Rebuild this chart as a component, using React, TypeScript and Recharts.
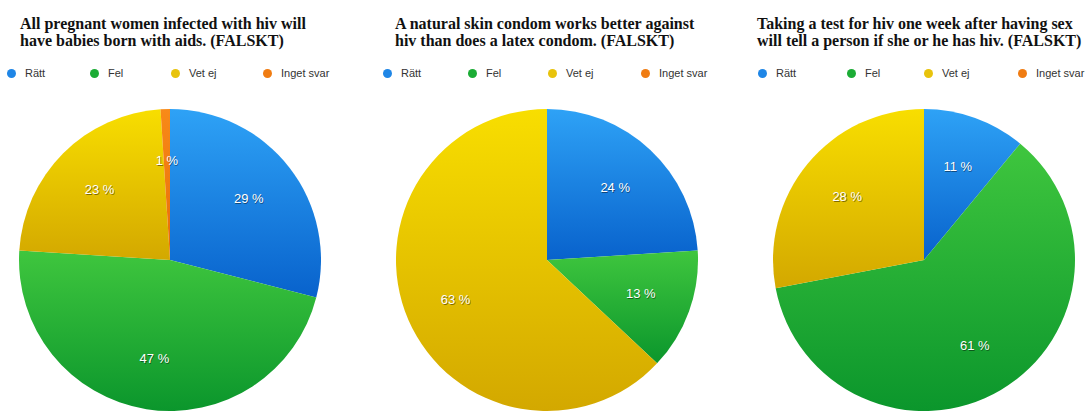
import { PieChart, Pie, Cell } from "recharts";

const categories = ["Rätt", "Fel", "Vet ej", "Inget svar"];

const titles = [
  ["All pregnant women infected with hiv will", "have babies born with aids. (FALSKT)"],
  ["A natural skin condom works better against", "hiv than does a latex condom. (FALSKT)"],
  ["Taking a test for hiv one week after having sex", "will tell a person if she or he has hiv. (FALSKT)"],
];

const pregnantValues = [29, 47, 23, 1];
const skinCondomValues = [24, 13, 63, 0];
const testWeekValues = [11, 61, 28, 0];

const seriesValues = [pregnantValues, skinCondomValues, testWeekValues];

const gradients = [
  { id: "gBlue", top: "#2ea2f6", bottom: "#0862cc", dot: "#1f86e6" },
  { id: "gGreen", top: "#3fc63e", bottom: "#0b962c", dot: "#1bac35" },
  { id: "gYellow", top: "#f8de00", bottom: "#d3a800", dot: "#e8c30c" },
  { id: "gOrange", top: "#f88a18", bottom: "#e86c08", dot: "#f07c12" },
];

const panels = [
  { cx: 170, titleLeft: 20, legendLeft: 7 },
  { cx: 547, titleLeft: 395, legendLeft: 383 },
  { cx: 924, titleLeft: 757, legendLeft: 758 },
];

const legendGaps = [[0, 83, 164, 256], [0, 85, 165, 258], [0, 89, 166, 260]];

const RADIAN = Math.PI / 180;

function renderLabel(props: any) {
  const { cx, cy, midAngle, outerRadius, value } = props;
  if (!value) return null;
  const r = outerRadius * 0.66;
  const x = cx + r * Math.cos(-midAngle * RADIAN);
  const y = cy + r * Math.sin(-midAngle * RADIAN);
  const text = `${value} %`;
  return (
    <g>
      <text x={x + 0.8} y={y + 1} fill="rgba(0,0,0,0.45)" textAnchor="middle" dominantBaseline="central" fontSize={13} fontFamily="Liberation Sans, Arial, sans-serif">
        {text}
      </text>
      <text x={x} y={y} fill="#ffffff" textAnchor="middle" dominantBaseline="central" fontSize={13} fontFamily="Liberation Sans, Arial, sans-serif">
        {text}
      </text>
    </g>
  );
}

export default function App() {
  return (
    <div style={{ position: "absolute", left: 0, top: 0, width: 1090, height: 412, overflow: "hidden", background: "#fff" }}>
      {panels.map((p, i) => (
        <div key={"t" + i} style={{ position: "absolute", left: p.titleLeft, top: 15, fontFamily: "Liberation Serif, Times New Roman, serif", fontWeight: "bold", fontSize: 16, lineHeight: "17px", color: "#111", whiteSpace: "nowrap" }}>
          <div>{titles[i][0]}</div>
          <div>{titles[i][1]}</div>
        </div>
      ))}
      {panels.map((p, i) => (
        <div key={"l" + i}>
          {categories.map((c, j) => (
            <div key={c} style={{ position: "absolute", left: p.legendLeft + legendGaps[i][j], top: 66, height: 14, display: "flex", alignItems: "center", fontFamily: "Liberation Sans, Arial, sans-serif", fontSize: 11, color: "#333" }}>
              <span style={{ display: "inline-block", width: 9, height: 9, borderRadius: "50%", background: gradients[j].dot, marginRight: 9 }} />
              {c}
            </div>
          ))}
        </div>
      ))}
      <div style={{ position: "absolute", left: 0, top: 0 }}>
        <PieChart width={1090} height={412} margin={{ top: 0, right: 0, bottom: 0, left: 0 }}>
          <defs>
            {gradients.map((g) => (
              <linearGradient key={g.id} id={g.id} x1="0" y1="0" x2="0" y2="1">
                <stop offset="0%" stopColor={g.top} />
                <stop offset="100%" stopColor={g.bottom} />
              </linearGradient>
            ))}
          </defs>
          {panels.map((p, i) => (
            <Pie
              key={"p" + i}
              data={categories.map((c, j) => ({ name: c, value: seriesValues[i][j] }))}
              dataKey="value"
              nameKey="name"
              cx={p.cx}
              cy={260}
              outerRadius={151}
              startAngle={90}
              endAngle={-270}
              stroke="none"
              label={renderLabel}
              labelLine={false}
              isAnimationActive={false}
            >
              {categories.map((c, j) => (
                <Cell key={c} fill={`url(#${gradients[j].id})`} />
              ))}
            </Pie>
          ))}
        </PieChart>
      </div>
    </div>
  );
}
